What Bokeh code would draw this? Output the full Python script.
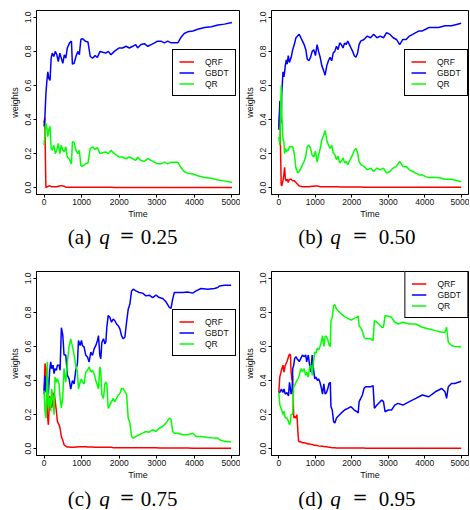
from bokeh.plotting import figure
from bokeh.models import FixedTicker, PrintfTickFormatter, Range1d
from bokeh.core.properties import value
from bokeh.layouts import column, row
from bokeh.embed import file_html
from bokeh.resources import INLINE

x_ticks = [0, 1000, 2000, 3000, 4000, 5000]
y_ticks = [0.0, 0.2, 0.4, 0.6, 0.8, 1.0]
series_names = ["QRF", "GBDT", "QR"]
captions = [("(a)", "0.25"), ("(b)", "0.50"), ("(c)", "0.75"), ("(d)", "0.95")]

# ---------------- panel (a) q = 0.25 ----------------
t_a = [0, 20, 40, 50, 70, 100, 130, 160, 190, 220,
       260, 300, 340, 380, 420, 460, 500, 540, 580, 620,
       680, 730, 755, 800, 850, 900, 940, 980, 1020, 1100,
       1170, 1230, 1290, 1360, 1420, 1490, 1560, 1640, 1710, 1780,
       1870, 2000, 2090, 2180, 2270, 2360, 2440, 2490, 2580, 2670,
       2760, 2850, 2940, 3020, 3110, 3200, 3290, 3380, 3470, 3560,
       3650, 3730, 3820, 3960, 4090, 4270, 4450, 4630, 4800, 5000]
qrf_a = [0.38, 0.41, 0.13, 0.0, 0.005, 0.005, 0.012, 0.01, 0.006, 0.006,
         0.006, 0.005, 0.006, 0.008, 0.01, 0.012, 0.01, 0.008, 0.003, 0.002,
         0.002, 0.002, 0.002, 0.002, 0.002, 0.002, 0.002, 0.002, 0.002, 0.002,
         0.002, 0.002, 0.002, 0.002, 0.002, 0.002, 0.002, 0.002, 0.002, 0.002,
         0.001, 0.001, 0.001, 0.001, 0.001, 0.001, 0.001, 0.001, 0.001, 0.001,
         0.001, 0.001, 0.001, 0.001, 0.001, 0.001, 0.001, 0.001, 0.001, 0.001,
         0.001, 0.001, 0.001, 0.001, 0.001, 0.001, 0.001, 0.001, 0.001, 0.001]
gbdt_a = [0.36, 0.40, 0.50, 0.55, 0.61, 0.68, 0.64, 0.63, 0.76, 0.79,
          0.77, 0.80, 0.78, 0.74, 0.79, 0.76, 0.73, 0.78, 0.76, 0.82,
          0.85, 0.86, 0.725, 0.73, 0.77, 0.80, 0.78, 0.87, 0.875, 0.86,
          0.855, 0.77, 0.76, 0.775, 0.765, 0.80, 0.795, 0.79, 0.80, 0.78,
          0.80, 0.82, 0.82, 0.83, 0.82, 0.83, 0.84, 0.82, 0.84, 0.845,
          0.83, 0.84, 0.85, 0.86, 0.86, 0.85, 0.86, 0.85, 0.85, 0.85,
          0.885, 0.905, 0.915, 0.92, 0.93, 0.94, 0.945, 0.955, 0.96, 0.97]
qr_a = [0.25, 0.30, 0.36, 0.38, 0.36, 0.30, 0.34, 0.36, 0.23, 0.22,
        0.25, 0.20, 0.22, 0.26, 0.20, 0.25, 0.22, 0.21, 0.24, 0.18,
        0.165, 0.14, 0.27, 0.265, 0.22, 0.20, 0.22, 0.13, 0.125, 0.14,
        0.145, 0.23, 0.24, 0.225, 0.235, 0.20, 0.205, 0.21, 0.20, 0.22,
        0.20, 0.18, 0.18, 0.17, 0.18, 0.17, 0.16, 0.18, 0.16, 0.155,
        0.17, 0.16, 0.15, 0.14, 0.14, 0.15, 0.14, 0.15, 0.15, 0.15,
        0.115, 0.095, 0.085, 0.08, 0.07, 0.06, 0.055, 0.045, 0.04, 0.03]

# ---------------- panel (b) q = 0.50 ----------------
t_b = [0, 30, 50, 65, 80, 115, 140, 160, 180, 205,
       230, 260, 290, 340, 380, 425, 470, 515, 560, 605,
       650, 695, 740, 780, 825, 870, 915, 960, 1005, 1050,
       1090, 1135, 1180, 1225, 1270, 1315, 1360, 1405, 1450, 1490,
       1535, 1580, 1625, 1670, 1715, 1760, 1805, 1845, 1890, 1935,
       1980, 2025, 2070, 2115, 2160, 2200, 2245, 2335, 2425, 2515,
       2600, 2690, 2780, 2870, 2955, 3045, 3135, 3225, 3315, 3400,
       3490, 3580, 3670, 3755, 3845, 3935, 4025, 4110, 4200, 4380,
       4555, 4735, 4820, 5000]
qrf_b = [0.36, 0.46, 0.20, 0.02, 0.01, 0.04, 0.08, 0.12, 0.05, 0.04,
         0.05, 0.03, 0.05, 0.05, 0.04, 0.04, 0.03, 0.02, 0.01, 0.008,
         0.005, 0.005, 0.005, 0.005, 0.006, 0.007, 0.008, 0.008, 0.01, 0.01,
         0.008, 0.006, 0.005, 0.005, 0.005, 0.005, 0.005, 0.005, 0.005, 0.005,
         0.005, 0.005, 0.005, 0.004, 0.004, 0.004, 0.004, 0.004, 0.004, 0.004,
         0.004, 0.004, 0.004, 0.004, 0.004, 0.004, 0.004, 0.003, 0.003, 0.003,
         0.003, 0.003, 0.003, 0.003, 0.003, 0.003, 0.003, 0.003, 0.003, 0.003,
         0.003, 0.003, 0.003, 0.002, 0.002, 0.002, 0.002, 0.002, 0.002, 0.002,
         0.002, 0.002, 0.002, 0.002]
gbdt_b = [0.34, 0.51, 0.42, 0.38, 0.55, 0.68, 0.65, 0.68, 0.72, 0.75,
          0.725, 0.775, 0.735, 0.765, 0.81, 0.84, 0.88, 0.89, 0.90, 0.88,
          0.86, 0.84, 0.81, 0.755, 0.745, 0.765, 0.80, 0.81, 0.775, 0.84,
          0.80, 0.765, 0.715, 0.69, 0.66, 0.715, 0.745, 0.765, 0.745, 0.79,
          0.80, 0.83, 0.81, 0.85, 0.84, 0.82, 0.85, 0.84, 0.86, 0.84,
          0.82, 0.80, 0.775, 0.765, 0.79, 0.84, 0.86, 0.87, 0.89, 0.88,
          0.90, 0.88, 0.89, 0.88, 0.91, 0.90, 0.88, 0.87, 0.84, 0.87,
          0.87, 0.89, 0.90, 0.91, 0.92, 0.92, 0.93, 0.94, 0.94, 0.94,
          0.95, 0.95, 0.955, 0.965]
qr_b = [0.30, 0.25, 0.45, 0.60, 0.44, 0.28, 0.27, 0.20, 0.23, 0.21,
        0.22, 0.22, 0.24, 0.24, 0.24, 0.20, 0.115, 0.087, 0.095, 0.115,
        0.135, 0.155, 0.185, 0.24, 0.25, 0.23, 0.19, 0.18, 0.215, 0.15,
        0.19, 0.23, 0.28, 0.305, 0.335, 0.28, 0.25, 0.23, 0.25, 0.205,
        0.195, 0.165, 0.185, 0.145, 0.155, 0.175, 0.145, 0.155, 0.135, 0.155,
        0.175, 0.195, 0.22, 0.23, 0.205, 0.155, 0.135, 0.125, 0.105, 0.115,
        0.095, 0.115, 0.105, 0.115, 0.085, 0.095, 0.115, 0.125, 0.155, 0.125,
        0.125, 0.105, 0.095, 0.085, 0.075, 0.075, 0.065, 0.06, 0.06, 0.06,
        0.05, 0.05, 0.045, 0.035]

# ---------------- panel (c) q = 0.75 ----------------
t_c = [0, 27, 53, 89, 116, 151, 178, 204, 240, 267,
       293, 329, 356, 400, 427, 462, 498, 533, 578, 622,
       667, 711, 756, 800, 844, 889, 916, 960, 996, 1022,
       1067, 1111, 1156, 1200, 1244, 1289, 1333, 1378, 1422, 1449,
       1484, 1511, 1538, 1582, 1618, 1644, 1671, 1707, 1751, 1796,
       1840, 1884, 1929, 1973, 2018, 2062, 2107, 2151, 2196, 2240,
       2284, 2329, 2373, 2444, 2533, 2622, 2711, 2800, 2889, 2978,
       3067, 3156, 3244, 3333, 3378, 3422, 3467, 3556, 3689, 3822,
       3956, 4044, 4178, 4356, 4533, 4622, 4667, 4800, 4978]
qrf_c = [0.34, 0.50, 0.47, 0.20, 0.14, 0.31, 0.26, 0.24, 0.28, 0.33,
         0.29, 0.22, 0.16, 0.14, 0.12, 0.07, 0.05, 0.023, 0.014, 0.01,
         0.01, 0.008, 0.008, 0.008, 0.01, 0.01, 0.012, 0.012, 0.012, 0.012,
         0.012, 0.012, 0.01, 0.01, 0.01, 0.01, 0.008, 0.008, 0.008, 0.008,
         0.008, 0.008, 0.008, 0.008, 0.008, 0.008, 0.008, 0.008, 0.008, 0.008,
         0.006, 0.006, 0.006, 0.006, 0.006, 0.006, 0.006, 0.006, 0.006, 0.006,
         0.005, 0.005, 0.005, 0.005, 0.005, 0.005, 0.005, 0.005, 0.005, 0.005,
         0.004, 0.004, 0.004, 0.004, 0.004, 0.004, 0.004, 0.004, 0.004, 0.004,
         0.003, 0.003, 0.003, 0.003, 0.003, 0.003, 0.003, 0.003, 0.003]
gbdt_c = [0.32, 0.43, 0.33, 0.42, 0.32, 0.46, 0.51, 0.47, 0.49, 0.44,
          0.47, 0.46, 0.49, 0.49, 0.46, 0.71, 0.67, 0.55, 0.55, 0.43,
          0.41, 0.35, 0.40, 0.38, 0.46, 0.50, 0.635, 0.606, 0.635, 0.606,
          0.596, 0.548, 0.538, 0.509, 0.567, 0.548, 0.586, 0.606, 0.635, 0.664,
          0.548, 0.528, 0.625, 0.645, 0.616, 0.625, 0.713, 0.781, 0.771, 0.742,
          0.761, 0.751, 0.732, 0.722, 0.703, 0.664, 0.645, 0.654, 0.742, 0.819,
          0.849, 0.926, 0.936, 0.926, 0.917, 0.913, 0.897, 0.901, 0.887, 0.901,
          0.887, 0.882, 0.862, 0.829, 0.823, 0.878, 0.917, 0.917, 0.917, 0.920,
          0.913, 0.926, 0.940, 0.936, 0.940, 0.946, 0.955, 0.959, 0.959]
qr_c = [0.34, 0.22, 0.18, 0.51, 0.24, 0.30, 0.22, 0.35, 0.30, 0.20,
        0.42, 0.39, 0.41, 0.38, 0.30, 0.24, 0.30, 0.47, 0.39, 0.51,
        0.60, 0.645, 0.60, 0.55, 0.49, 0.45, 0.35, 0.39, 0.41, 0.39,
        0.38, 0.45, 0.46, 0.48, 0.45, 0.46, 0.44, 0.40, 0.37, 0.35,
        0.48, 0.45, 0.315, 0.295, 0.38, 0.39, 0.38, 0.237, 0.256, 0.276,
        0.295, 0.276, 0.295, 0.315, 0.324, 0.353, 0.353, 0.334, 0.32, 0.179,
        0.150, 0.072, 0.062, 0.072, 0.082, 0.091, 0.101, 0.097, 0.111, 0.101,
        0.120, 0.130, 0.150, 0.179, 0.175, 0.101, 0.091, 0.091, 0.082, 0.082,
        0.091, 0.072, 0.072, 0.066, 0.062, 0.062, 0.052, 0.043, 0.039]

# ---------------- panel (d) q = 0.95 ----------------
t_d = [0, 27, 71, 115, 142, 178, 222, 266, 293, 320,
       337, 364, 382, 409, 435, 471, 497, 524, 542, 560,
       604, 648, 693, 737, 764, 808, 844, 879, 915, 950,
       986, 1021, 1057, 1092, 1128, 1163, 1199, 1234, 1270, 1306,
       1341, 1377, 1412, 1430, 1465, 1501, 1536, 1581, 1625, 1714,
       1803, 1892, 1980, 2069, 2140, 2176, 2202, 2247, 2291, 2336,
       2380, 2425, 2513, 2584, 2620, 2691, 2780, 2824, 2869, 2913,
       3002, 3091, 3179, 3268, 3401, 3579, 3757, 3934, 4112, 4290,
       4467, 4556, 4600, 4645, 4734, 4822, 5000]
qrf_d = [0.33, 0.42, 0.46, 0.49, 0.45, 0.49, 0.51, 0.54, 0.555, 0.55,
         0.45, 0.40, 0.43, 0.18, 0.19, 0.18, 0.20, 0.10, 0.045, 0.04,
         0.04, 0.035, 0.035, 0.033, 0.03, 0.027, 0.027, 0.026, 0.025, 0.022,
         0.02, 0.02, 0.018, 0.016, 0.015, 0.014, 0.014, 0.013, 0.012, 0.011,
         0.01, 0.009, 0.008, 0.007, 0.006, 0.005, 0.005, 0.004, 0.004, 0.004,
         0.004, 0.004, 0.004, 0.004, 0.004, 0.004, 0.004, 0.004, 0.004, 0.004,
         0.003, 0.003, 0.003, 0.003, 0.003, 0.003, 0.003, 0.003, 0.003, 0.003,
         0.003, 0.003, 0.003, 0.003, 0.003, 0.003, 0.003, 0.003, 0.003, 0.003,
         0.003, 0.003, 0.003, 0.003, 0.003, 0.003, 0.003]
gbdt_d = [0.33, 0.33, 0.35, 0.33, 0.35, 0.32, 0.33, 0.31, 0.39, 0.35,
          0.32, 0.34, 0.47, 0.49, 0.53, 0.54, 0.53, 0.52, 0.52, 0.51,
          0.53, 0.55, 0.54, 0.55, 0.51, 0.55, 0.49, 0.45, 0.55, 0.47,
          0.41, 0.42, 0.40, 0.41, 0.39, 0.36, 0.32, 0.38, 0.32, 0.33,
          0.35, 0.383, 0.39, 0.246, 0.227, 0.16, 0.15, 0.18, 0.19, 0.21,
          0.227, 0.237, 0.246, 0.227, 0.217, 0.21, 0.276, 0.295, 0.315, 0.353,
          0.363, 0.363, 0.363, 0.37, 0.237, 0.256, 0.276, 0.285, 0.276, 0.217,
          0.227, 0.227, 0.256, 0.266, 0.256, 0.276, 0.295, 0.315, 0.305, 0.334,
          0.353, 0.334, 0.295, 0.363, 0.383, 0.383, 0.396]
qr_d = [0.33, 0.26, 0.23, 0.20, 0.22, 0.18, 0.18, 0.16, 0.14, 0.16,
        0.20, 0.20, 0.21, 0.37, 0.37, 0.39, 0.40, 0.41, 0.42, 0.43,
        0.47, 0.45, 0.47, 0.43, 0.45, 0.42, 0.48, 0.49, 0.43, 0.51,
        0.567, 0.56, 0.59, 0.58, 0.60, 0.625, 0.664, 0.60, 0.66, 0.66,
        0.64, 0.61, 0.60, 0.75, 0.77, 0.84, 0.845, 0.82, 0.81, 0.79,
        0.775, 0.765, 0.755, 0.765, 0.771, 0.78, 0.72, 0.71, 0.69, 0.654,
        0.645, 0.645, 0.645, 0.635, 0.751, 0.742, 0.722, 0.713, 0.713, 0.781,
        0.777, 0.771, 0.742, 0.732, 0.742, 0.732, 0.732, 0.713, 0.703, 0.693,
        0.684, 0.684, 0.713, 0.625, 0.606, 0.60, 0.597]

COLORS = ["#FF0000", "#0000FF", "#00FF00"]
SANS = "Liberation Sans"
SERIF = "Liberation Serif"


def make_panel(t, qrf, gbdt, qr, width, height, b_left, b_top, b_bottom, legend_loc):
    p = figure(width=width, height=height, output_backend="svg", toolbar_location=None,
               x_range=Range1d(-200, 5200), y_range=Range1d(-0.04, 1.04),
               min_border_left=b_left, min_border_right=1,
               min_border_top=b_top, min_border_bottom=b_bottom,
               x_axis_label="Time", y_axis_label="weights")
    p.grid.visible = False
    p.background_fill_color = "white"
    p.border_fill_color = "white"
    p.outline_line_color = "black"
    p.outline_line_alpha = 1.0
    p.outline_line_width = 1

    for vals, name, col in zip([qrf, gbdt, qr], series_names, COLORS):
        p.line(t, vals, line_color=col, line_width=1.5, legend_label=name)

    p.xaxis.ticker = FixedTicker(ticks=x_ticks)
    p.yaxis.ticker = FixedTicker(ticks=y_ticks)
    p.yaxis.formatter = PrintfTickFormatter(format="%.1f")
    p.yaxis.major_label_orientation = "vertical"
    for ax in (p.xaxis, p.yaxis):
        ax.axis_line_color = "black"
        ax.major_tick_line_color = "black"
        ax.major_tick_out = 3
        ax.major_tick_in = 0
        ax.minor_tick_out = 0
        ax.minor_tick_in = 0
        ax.major_label_text_font = SANS
        ax.major_label_text_font_size = "8.5px"
        ax.major_label_text_color = "#111111"
        ax.axis_label_text_font = SANS
        ax.axis_label_text_font_size = "9px"
        ax.axis_label_text_font_style = "normal"
        ax.axis_label_text_color = "#111111"
    p.xaxis.major_label_standoff = 1
    p.xaxis.axis_label_standoff = 1
    p.yaxis.major_label_standoff = 2
    p.yaxis.axis_label_standoff = 3

    lg = p.legend[0]
    lg.location = legend_loc
    lg.margin = 0
    lg.padding = 6
    lg.spacing = 0
    lg.glyph_width = 15
    lg.glyph_height = 11
    lg.label_height = 11
    lg.label_standoff = 11
    lg.label_text_font = SANS
    lg.label_text_font_size = "8.5px"
    lg.label_text_color = "#111111"
    lg.border_line_color = "black"
    lg.border_line_width = 1
    lg.border_line_alpha = 1.0
    lg.background_fill_alpha = 1.0
    return p


def make_caption(caption, width, height, centers, baseline):
    c = figure(width=width, height=height, output_backend="svg", toolbar_location=None,
               x_range=Range1d(0, width), y_range=Range1d(0, height),
               x_axis_type=None, y_axis_type=None,
               min_border_left=0, min_border_right=0, min_border_top=0, min_border_bottom=0)
    c.grid.visible = False
    c.outline_line_color = None
    c.background_fill_color = "white"
    c.border_fill_color = "white"
    tag, qv = caption
    c.text(x=[centers[0], centers[3]], y=[baseline] * 2, text=[tag, qv],
           text_font=value(SERIF), text_font_size="21px", text_font_style="normal",
           text_align="center", text_baseline="middle", text_color="black")
    c.text(x=[centers[2]], y=[baseline + 1], text=["="],
           text_font=value("DejaVu Serif"), text_font_size="18px", text_font_style="normal",
           text_align="center", text_baseline="middle", text_color="black")
    c.text(x=[centers[1]], y=[baseline], text=["q"],
           text_font=value(SERIF), text_font_size="21px", text_font_style="italic",
           text_align="center", text_baseline="middle", text_color="black")
    return c


left_caps = [79, 104, 126.5, 158.5]
right_caps = [70, 95, 119.5, 156.5]

pa = make_panel(t_a, qrf_a, gbdt_a, qr_a, 240, 224, 36, 10, 30, (136, 98))
pb = make_panel(t_b, qrf_b, gbdt_b, qr_b, 229, 224, 31, 10, 30, (133, 98))
pc = make_panel(t_c, qrf_c, gbdt_c, qr_c, 240, 230, 36, 17, 29, (136, 99))
pd = make_panel(t_d, qrf_d, gbdt_d, qr_d, 229, 230, 31, 17, 29, "top_right")

# caption text centres (pixels from the bottom of each caption strip)
ca = make_caption(captions[0], 240, 30, left_caps, 18)
cb = make_caption(captions[1], 229, 30, right_caps, 18)
cc = make_caption(captions[2], 240, 25, left_caps, 11)
cd = make_caption(captions[3], 229, 25, right_caps, 11)

layout = column(row(pa, pb), row(ca, cb), row(pc, pd), row(cc, cd))

open("out.html", "w").write(file_html(layout, INLINE))
